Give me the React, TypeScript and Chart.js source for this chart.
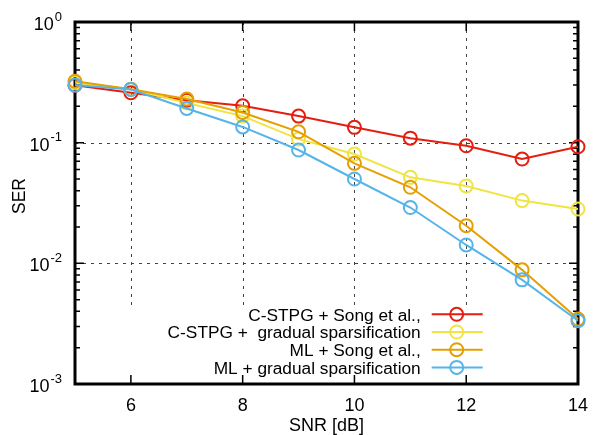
import { useEffect, useRef } from 'react';
import { Chart, registerables } from 'chart.js';

Chart.register(...registerables);

// ---- data ----
const snr = [5, 6, 7, 8, 9, 10, 11, 12, 13, 14];
const serCstpgSong = [0.299, 0.259, 0.225, 0.202, 0.166, 0.134, 0.109, 0.0942, 0.0732, 0.0925];
const serCstpgGradual = [0.315, 0.277, 0.213, 0.166, 0.107, 0.0805, 0.0516, 0.0438, 0.0331, 0.0282];
const serMlSong = [0.323, 0.277, 0.23, 0.178, 0.123, 0.0674, 0.0427, 0.0205, 0.00883, 0.00345];
const serMlGradual = [0.3, 0.276, 0.192, 0.135, 0.0869, 0.05, 0.029, 0.0142, 0.0073, 0.00334];

const seriesLabels = [
  'C-STPG + Song et al.,',
  'C-STPG +  gradual sparsification',
  'ML + Song et al.,',
  'ML + gradual sparsification',
];
const seriesColors = ['#e51e10', '#f0e442', '#e69f00', '#56b4e9'];

const xTickValues = [6, 8, 10, 12, 14];
const xGridValues = [6, 8, 10, 12];
const yTickValues = [1, 0.1, 0.01, 0.001];
const yTickExponents = ['0', '-1', '-2', '-3'];
const yGridValues = [0.1, 0.01];
const xTitle = 'SNR [dB]';
const yTitle = 'SER';

const FONT = "'Liberation Sans', Arial, sans-serif";

export default function App() {
  const ref = useRef<HTMLCanvasElement>(null);

  useEffect(() => {
    document.body.style.margin = '0';
    const canvas = ref.current;
    if (!canvas) return;
    const seriesValues = [serCstpgSong, serCstpgGradual, serMlSong, serMlGradual];

    const datasets = seriesValues.map((vals, i) => ({
      label: seriesLabels[i],
      data: snr.map((x, j) => ({ x, y: vals[j] })),
      borderColor: seriesColors[i],
      backgroundColor: 'transparent',
      pointBackgroundColor: 'transparent',
      pointBorderColor: seriesColors[i],
      pointRadius: 6.5,
      pointHoverRadius: 6.5,
      pointBorderWidth: 2,
      borderWidth: 2,
      tension: 0,
      order: seriesValues.length - i,
      clip: false as any,
    }));

    const framePlugin = {
      id: 'frameAndText',
      beforeDatasetsDraw(chart: any) {
        const { ctx, chartArea: a, scales } = chart;
        const x = scales.x;
        const y = scales.y;
        ctx.save();

        // dashed grid
        ctx.strokeStyle = '#444';
        ctx.lineWidth = 1;
        ctx.setLineDash([3, 5]);
        ctx.beginPath();
        for (const v of xGridValues) {
          const px = Math.round(x.getPixelForValue(v)) + 0.5;
          ctx.moveTo(px, a.top);
          ctx.lineTo(px, a.bottom);
        }
        for (const v of yGridValues) {
          const py = Math.round(y.getPixelForValue(v)) + 0.5;
          ctx.moveTo(a.left, py);
          ctx.lineTo(a.right, py);
        }
        ctx.stroke();
        ctx.setLineDash([]);

        // opaque key box (no border)
        const boxTop = 306;
        ctx.fillStyle = '#ffffff';
        ctx.fillRect(a.left + 25, boxTop, 415, a.bottom - boxTop);

        // ticks
        ctx.strokeStyle = '#000';
        ctx.lineWidth = 1.5;
        ctx.beginPath();
        for (const v of xGridValues) {
          const px = x.getPixelForValue(v);
          ctx.moveTo(px, a.bottom);
          ctx.lineTo(px, a.bottom - 9);
          ctx.moveTo(px, a.top);
          ctx.lineTo(px, a.top + 9);
        }
        for (const v of yGridValues) {
          const py = y.getPixelForValue(v);
          ctx.moveTo(a.left, py);
          ctx.lineTo(a.left + 9, py);
          ctx.moveTo(a.right, py);
          ctx.lineTo(a.right - 9, py);
        }
        for (let k = -3; k <= -1; k++) {
          for (let m = 2; m <= 9; m++) {
            const py = y.getPixelForValue(m * Math.pow(10, k));
            ctx.moveTo(a.left, py);
            ctx.lineTo(a.left + 5, py);
            ctx.moveTo(a.right, py);
            ctx.lineTo(a.right - 5, py);
          }
        }
        ctx.stroke();

        // frame
        ctx.lineWidth = 3;
        ctx.strokeRect(a.left, a.top, a.right - a.left, a.bottom - a.top);

        // tick labels
        ctx.fillStyle = '#000';
        ctx.textBaseline = 'alphabetic';
        ctx.textAlign = 'center';
        ctx.font = `18px ${FONT}`;
        for (const v of xTickValues) {
          ctx.fillText(String(v), x.getPixelForValue(v), a.bottom + 27);
        }
        ctx.textAlign = 'left';
        yTickValues.forEach((v, i) => {
          const py = y.getPixelForValue(v);
          ctx.font = `18px ${FONT}`;
          const w10 = ctx.measureText('10').width;
          ctx.font = `13px ${FONT}`;
          const ws = ctx.measureText(yTickExponents[i]).width;
          const x0 = 62 - w10 - ws - 1;
          ctx.font = `18px ${FONT}`;
          ctx.fillText('10', x0, py + 8);
          ctx.font = `13px ${FONT}`;
          ctx.fillText(yTickExponents[i], x0 + w10 + 1, py - 1.5);
        });

        // axis titles
        ctx.font = `18px ${FONT}`;
        ctx.textAlign = 'center';
        ctx.fillText(xTitle, (a.left + a.right) / 2, 431);
        ctx.save();
        ctx.translate(25, 196);
        ctx.rotate(-Math.PI / 2);
        ctx.font = `17.5px ${FONT}`;
        ctx.fillText(yTitle, 0, 0);
        ctx.restore();

        ctx.restore();
      },
      afterDraw(chart: any) {
        const { ctx } = chart;
        ctx.save();
        const textRight = 420.7;
        const lineL = 431.7;
        const lineR = 482.7;
        const markX = 456.7;
        const row0 = 314.3;
        const step = 17.7;
        ctx.font = `17.3px ${FONT}`;
        ctx.textAlign = 'right';
        ctx.textBaseline = 'alphabetic';
        chart.data.datasets.forEach((ds: any, i: number) => {
          const ry = row0 + i * step;
          ctx.fillStyle = '#000';
          ctx.fillText(ds.label, textRight, ry + 6.2);
          ctx.strokeStyle = ds.borderColor;
          ctx.lineWidth = 2;
          ctx.beginPath();
          ctx.moveTo(lineL, ry);
          ctx.lineTo(lineR, ry);
          ctx.stroke();
          ctx.beginPath();
          ctx.arc(markX, ry, 6.5, 0, Math.PI * 2);
          ctx.stroke();
        });
        ctx.restore();
      },
    };

    const chart = new Chart(canvas, {
      type: 'line',
      data: { datasets },
      options: {
        responsive: false,
        animation: false,
        devicePixelRatio: 1,
        layout: { padding: { top: 22, right: 15, left: 0, bottom: 0 }, autoPadding: false },
        plugins: { legend: { display: false }, tooltip: { enabled: false } },
        events: [],
        scales: {
          x: {
            type: 'linear',
            min: 5,
            max: 14,
            grid: { display: false },
            border: { display: false },
            ticks: { display: false },
            afterFit: (s: any) => { s.height = 51; },
          },
          y: {
            type: 'logarithmic',
            min: 0.001,
            max: 1,
            grid: { display: false },
            border: { display: false },
            ticks: { display: false },
            afterFit: (s: any) => { s.width = 75; },
          },
        },
      } as any,
      plugins: [framePlugin],
    });

    return () => chart.destroy();
  }, []);

  return (
    <div style={{ position: 'fixed', left: 0, top: 0, width: 593, height: 435, background: '#fff' }}>
      <canvas ref={ref} width={593} height={435} style={{ display: 'block' }} />
    </div>
  );
}
